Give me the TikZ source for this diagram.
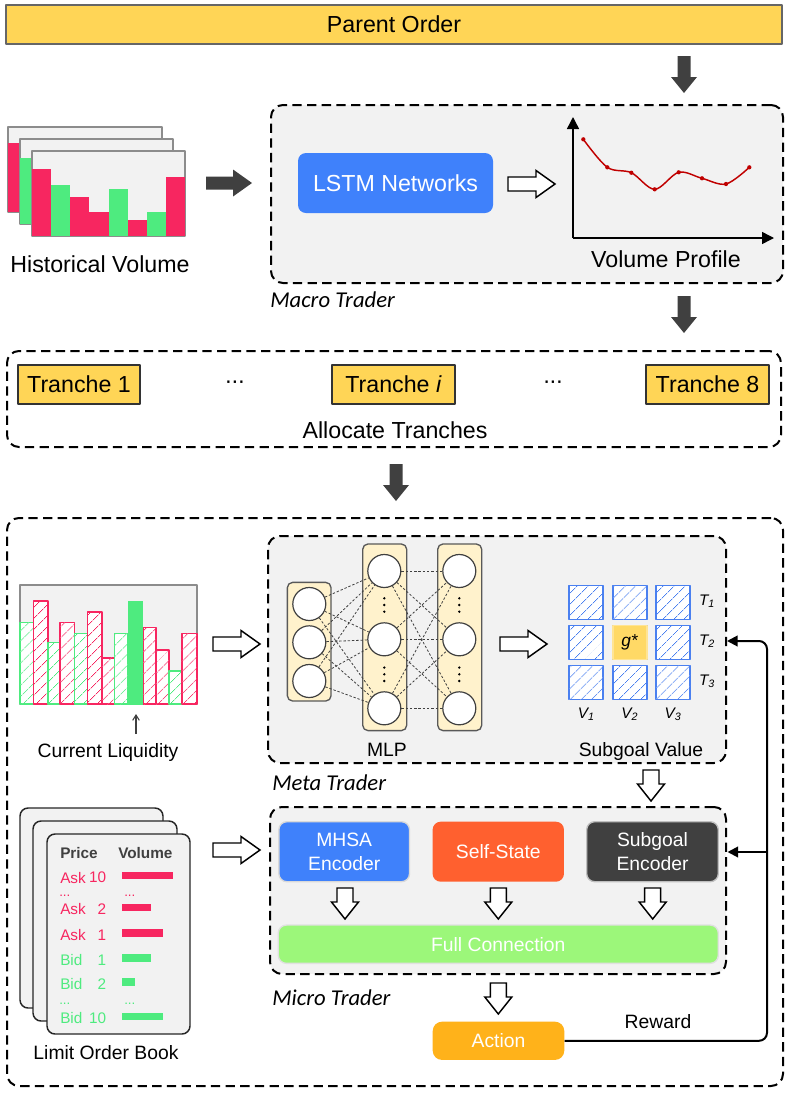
\documentclass[tikz,border=0pt]{standalone}
\usepackage{fontspec}
\setmainfont{Liberation Sans}
\newfontfamily\calfont{Carlito}
\usetikzlibrary{patterns.meta,arrows.meta}
\definecolor{pfill}{HTML}{FFD556}
\definecolor{gbg}{HTML}{F2F2F2}
\definecolor{darkg}{HTML}{404040}
\definecolor{lstm}{HTML}{3F81FB}
\definecolor{vred}{HTML}{F72660}
\definecolor{vgreen}{HTML}{4EEB7F}
\definecolor{mlpf}{HTML}{FFF2CC}
\definecolor{cellb}{HTML}{4A80F0}
\definecolor{gstar}{HTML}{FFD966}
\definecolor{selfs}{HTML}{FF602F}
\definecolor{fullc}{HTML}{9CF77A}
\definecolor{actc}{HTML}{FFB21A}
\definecolor{curvec}{HTML}{C00000}
\newcommand\smallf{\fontsize{14.5}{17}\selectfont}
\newcommand\lobf{\fontsize{11.5}{13}\selectfont}
\tikzset{
  dashbox/.style={draw=black, line width=1.5pt, dash pattern=on 7pt off 4pt, rounded corners=9pt, fill=gbg, inner sep=0pt},
  ybox/.style={draw=black!80, line width=1pt, fill=pfill, inner sep=0pt},
  rbox/.style={rounded corners=6pt, inner sep=0pt, text=white, align=center, font=\smallf},
  lbl/.style={font=\calfont\itshape\fontsize{17}{20}\selectfont, anchor=west, inner sep=0pt},
  txt/.style={inner sep=0pt},
  lobdots/.style={inner sep=0pt, anchor=west, font=\fontsize{10}{10}\selectfont, text height=1.5pt, text depth=0pt},
  frame/.style={draw=black!45, line width=1.1pt, fill=gbg},
  layerbox/.style={draw=black!65, line width=1pt, fill=mlpf, rounded corners=4pt, inner sep=0pt},
  neuron/.style={circle, draw=darkg, line width=0.9pt, fill=white, minimum size=24.75pt, inner sep=0pt},
  mlpline/.style={draw=darkg, line width=0.6pt, dash pattern=on 1.8pt off 1.4pt},
  cell/.style={draw=cellb, line width=1.3pt, fill=white, minimum size=25.5pt, inner sep=0pt,
     postaction={pattern={Lines[angle=45,distance=6.5pt,line width=0.6pt]}, pattern color=cellb}},
  hbar/.style={line width=1.2pt, fill=white, postaction={pattern={Lines[angle=45,distance=6.5pt,line width=0.6pt]}, pattern color=#1}, draw=#1},
  hollowR/.pic={\draw[line width=1.1pt, fill=white, line join=miter] (0,-7) -- (28,-7) -- (28,-13.5) -- (47,0) -- (28,13.5) -- (28,7) -- (0,7) -- cycle;},
  hollowD/.pic={\draw[line width=1.1pt, fill=white, line join=miter] (-8,0) -- (-8,14) -- (-13.5,14) -- (0,31) -- (13.5,14) -- (8,14) -- (8,0) -- cycle;},
  darkR/.pic={\fill[darkg] (0,-6.5) -- (27,-6.5) -- (27,-13.5) -- (46,0) -- (27,13.5) -- (27,6.5) -- (0,6.5) -- cycle;},
  darkD/.pic={\fill[darkg] (-6.5,0) -- (-6.5,21) -- (-13,21) -- (0,37) -- (13,21) -- (6.5,21) -- (6.5,0) -- cycle;},
  tip/.style={-{Triangle[length=8pt,width=8pt]}}
}
\begin{document}
\begin{tikzpicture}[x=0.75pt,y=-0.75pt, font=\fontsize{17.4}{20}\selectfont, line join=round]
\useasboundingbox[fill=white] (0,0) rectangle (789,1093);

% ---------- Parent order ----------
\node[ybox, draw=black!60, minimum width=582pt, minimum height=29.25pt] (parent) at (394,24.5) {Parent Order};
\pic at (684,56) {darkD};

% ---------- Macro trader ----------
\node[dashbox, minimum width=384pt, minimum height=133.5pt] (macro) at (527,194) {};
\node[lbl] (macrolbl) at (270,300) {Macro Trader};

% historical volume
\draw[frame] (8,127) rectangle (162,212);
\fill[vred] (8,143.3) rectangle (27,212);
\draw[frame] (20,139) rectangle (173,224);
\fill[vgreen] (20,158.3) rectangle (39,224);
\draw[frame] (32,151) rectangle (185,236);
\foreach \i/\t/\c in {0/169.3/vred,1/185.3/vgreen,2/196.7/vred,3/212/vred,4/189/vgreen,5/220/vred,6/212/vgreen,7/177.3/vred}{
  \fill[\c] ({32+\i*19.125},\t) rectangle ({32+(\i+1)*19.125},236);
}
\node[txt] (histlbl) at (100,264) {Historical Volume};
\pic at (206,183) {darkR};

\node[rbox, fill=lstm, font=\fontsize{17.4}{20}\selectfont, minimum width=146.25pt, minimum height=45pt] (lstm) at (395.5,183) {LSTM Networks};
\pic at (508,184) {hollowR};

% volume profile chart
\coordinate (org) at (573,238);
\coordinate (ytop) at (573,117);
\coordinate (xend) at (774,238);
\draw[line width=1.1pt, -{Triangle[length=9pt,width=9pt]}] (org) -- (ytop);
\draw[line width=1.1pt, -{Triangle[length=9pt,width=9pt]}] (org) -- (xend);
\draw[curvec, line width=1.1pt] plot[smooth, tension=0.55] coordinates {(583.3,139.3) (607.3,167.3) (631.3,172.7) (654.7,189.3) (678.7,172.3) (702,178.3) (726,184) (749.3,167.3)};
\foreach \p in {(583.3,139.3),(607.3,167.3),(631.3,172.7),(654.7,189.3),(678.7,172.3),(702,178.3),(726,184),(749.3,167.3)}{
  \fill[curvec] \p circle (1.6pt);
}
\node[txt] (vplbl) at (666,259) {Volume Profile};
\pic at (684,296) {darkD};

% ---------- Allocate tranches ----------
\node[dashbox, fill=white, minimum width=580.5pt, minimum height=72pt] (alloc) at (394,399) {};
\node[ybox, minimum width=91.5pt, minimum height=29.25pt] (tr1) at (79,384.5) {Tranche 1};
\node[ybox, minimum width=92.25pt, minimum height=29.25pt] (tri) at (393.5,384.5) {Tranche \textit{i}};
\node[ybox, minimum width=92.25pt, minimum height=29.25pt] (tr8) at (707.5,384.5) {Tranche 8};
\node[txt] (dots1) at (235,385) {\textperiodcentered\kern-1pt\textperiodcentered\kern-1pt\textperiodcentered};
\node[txt] (dots2) at (553,385) {\textperiodcentered\kern-1pt\textperiodcentered\kern-1pt\textperiodcentered};
\node[txt] (alloclbl) at (395,430) {Allocate Tranches};
\pic at (396,464) {darkD};

% ---------- Big box ----------
\node[dashbox, fill=white, minimum width=582pt, minimum height=426pt] (big) at (395,802) {};

% ---------- Meta trader ----------
\node[dashbox, minimum width=343.5pt, minimum height=170.25pt] (meta) at (497,649.5) {};
\node[lbl] (metalbl) at (272,783) {Meta Trader};

% current liquidity
\draw[frame] (20,585) rectangle (197,704);
\foreach \a/\b/\t/\c in {20/33.3/622.3/vgreen, 33.3/47.7/601/vred, 47.7/60/642.3/vgreen, 60/74.3/622.3/vred, 74.3/87.3/633.3/vgreen, 87.3/101.7/611.7/vred, 101.7/114.3/657.7/vred, 114.3/127.7/633.3/vgreen, 142.7/155.7/627.3/vred, 155.7/169/650/vred, 169/181.7/670.7/vgreen, 181.7/196.7/633.3/vred}{
  \draw[hbar=\c] (\a,\t) rectangle (\b,704);
}
\fill[vgreen] (127.7,601) rectangle (142.7,704.5);
\coordinate (liqa) at (136,734);
\coordinate (liqb) at (136,714);
\draw[darkg, line width=0.8pt, -{Straight Barb[length=4pt,width=5pt]}] (liqa) -- (liqb);
\node[txt, font=\smallf] (liqlbl) at (108,752) {Current Liquidity};
\pic at (213,644) {hollowR};

% MLP
\node[layerbox, minimum width=32.8pt, minimum height=89pt] (L1) at (309.2,641.7) {};
\node[layerbox, minimum width=33pt, minimum height=140pt] (L2) at (384.7,637.3) {};
\node[layerbox, minimum width=33pt, minimum height=140pt] (L3) at (459.7,637.3) {};
\node[neuron] (a1) at (309.3,604) {};
\node[neuron] (a2) at (309.3,642.3) {};
\node[neuron] (a3) at (309.3,681) {};
\node[neuron] (b1) at (384.3,571) {};
\node[neuron] (b2) at (384.3,639.3) {};
\node[neuron] (b3) at (384.3,708.3) {};
\node[neuron] (c1) at (459.3,571) {};
\node[neuron] (c2) at (459.3,639.3) {};
\node[neuron] (c3) at (459.3,708.3) {};
\foreach \i in {1,2,3}{\foreach \j in {1,2,3}{
  \draw[mlpline] (a\i) -- (b\j);
  \draw[mlpline] (b\i) -- (c\j);
}}
\foreach \x in {384.3,459.3}{\foreach \y in {598.3,605,611.7,667.6,674.3,681}{
  \fill[black] (\x,\y) circle (1pt);
}}
\node[txt, font=\smallf] (mlplbl) at (387,750) {MLP};
\pic at (500,644) {hollowR};

% Subgoal grid
\foreach \c/\x in {1/586.3,2/629.7,3/673}{\foreach \r/\y in {1/602.5,2/642.5,3/682.5}{
  \node[cell] (g\r\c) at (\x,\y) {};
}}
\node[draw=gstar!70!white, line width=1.3pt, fill=gstar, minimum size=25.5pt, inner sep=0pt, font=\fontsize{13}{15}\selectfont] (gs) at (629.7,642.5) {\textit{g*}};
\node[txt, font=\fontsize{11.5}{13}\selectfont] (T1) at (707,601) {\textit{T\textsubscript{1}}};
\node[txt, font=\fontsize{11.5}{13}\selectfont] (T2) at (707,641) {\textit{T\textsubscript{2}}};
\node[txt, font=\fontsize{11.5}{13}\selectfont] (T3) at (707,681) {\textit{T\textsubscript{3}}};
\node[txt, font=\fontsize{11.5}{13}\selectfont] (V1) at (586.3,714) {\textit{V\textsubscript{1}}};
\node[txt, font=\fontsize{11.5}{13}\selectfont] (V2) at (629.7,714) {\textit{V\textsubscript{2}}};
\node[txt, font=\fontsize{11.5}{13}\selectfont] (V3) at (673,714) {\textit{V\textsubscript{3}}};
\node[txt, font=\smallf] (sglbl) at (641,751) {Subgoal Value};
\pic at (651,770) {hollowD};

% ---------- Micro trader ----------
\node[dashbox, minimum width=342pt, minimum height=125.25pt] (micro) at (498,890.5) {};
\node[lbl] (microlbl) at (272,998) {Micro Trader};
\node[rbox, fill=lstm, draw=black!15, line width=1pt, minimum width=98pt, minimum height=45pt] (mhsa) at (344.2,851.7) {MHSA\\[1pt]Encoder};
\node[rbox, fill=selfs, minimum width=98.5pt, minimum height=45pt] (self) at (498.3,851.7) {Self-State};
\node[rbox, fill=darkg, draw=black!25, line width=1pt, minimum width=98.7pt, minimum height=45pt] (sgenc) at (652.5,851.7) {Subgoal\\[1pt]Encoder};
\pic at (345,888) {hollowD};
\pic at (498.3,888) {hollowD};
\pic at (652.7,888) {hollowD};
\node[rbox, fill=fullc, draw=black!12, line width=1pt, minimum width=330pt, minimum height=28.7pt] (full) at (498.3,944.2) {Full Connection};
\pic at (498.3,983) {hollowD};
\node[rbox, fill=actc, rounded corners=7pt, minimum width=98.7pt, minimum height=28.7pt] (action) at (498.5,1040.8) {Action};
\node[txt, font=\smallf] (reward) at (658,1022) {Reward};
\coordinate (rc1) at (767,1040.8);
\coordinate (rc2) at (767,641);
\coordinate (rin1) at (727,641);
\coordinate (rb) at (767,852);
\coordinate (rin2) at (727.5,852);
\draw[line width=1.5pt, rounded corners=6pt, tip] (action.east) -- (rc1) -- (rc2) -- (rin1);
\draw[line width=1.5pt, tip] (rb) -- (rin2);

% ---------- Limit order book ----------
\draw[draw=black!85, line width=1.1pt, fill=gbg, rounded corners=6pt] (20,808) rectangle (163,1008);
\draw[draw=black!85, line width=1.1pt, fill=gbg, rounded corners=6pt] (33,821) rectangle (177,1021);
\draw[draw=black!85, line width=1.1pt, fill=gbg, rounded corners=6pt] (47,834) rectangle (190,1034);
\node[txt, anchor=west, font=\lobf\bfseries, text=darkg] (price) at (60,853) {Price};
\node[txt, anchor=west, font=\lobf\bfseries, text=darkg] (vol) at (118,853) {Volume};
\foreach \n/\k/\v/\y/\e/\c in {a10/Ask/10/877.7/173.3/vred, a2/Ask/2/909.3/151/vred, a1/Ask/1/935/162.7/vred, b1/Bid/1/960/151/vgreen, b2/Bid/2/984/135/vgreen, b10/Bid/10/1018.5/162.7/vgreen}{
  \node[txt, anchor=west, font=\lobf, text=\c] (k\n) at (60,\y) {\k};
  \node[txt, anchor=east, font=\lobf, text=\c] (v\n) at (106.5,\y) {\v};
  \fill[\c] (122,{\y-5.8}) rectangle (\e,{\y+1.6});
}
\node[lobdots, text=vred] (ad1) at (59,895.5) {...};
\node[lobdots, text=vred] (ad2) at (124,895.5) {...};
\node[lobdots, text=vgreen] (bd1) at (59,1003) {...};
\node[lobdots, text=vgreen] (bd2) at (124,1003) {...};
\node[txt, font=\smallf] (loblbl) at (106,1053) {Limit Order Book};
\pic at (213,850) {hollowR};
\end{tikzpicture}
\end{document}
